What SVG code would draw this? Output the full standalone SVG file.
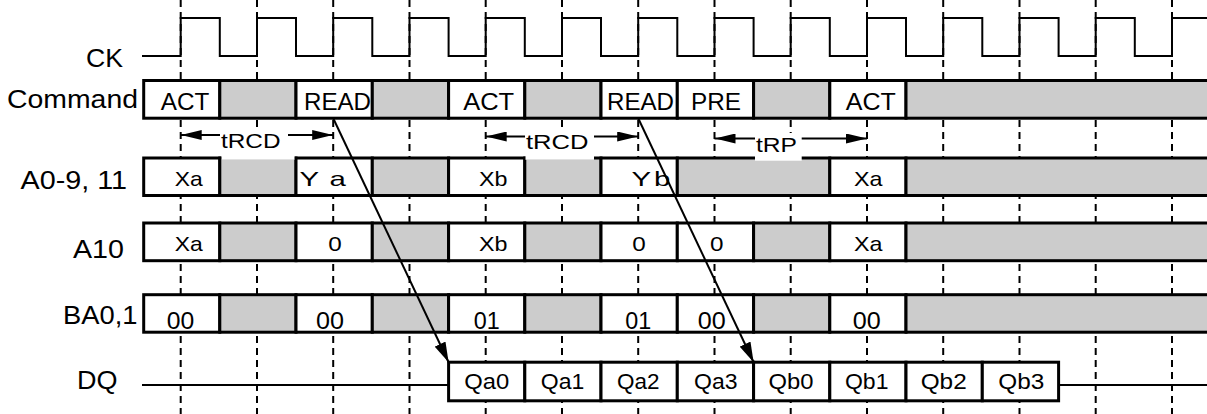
<svg xmlns="http://www.w3.org/2000/svg" width="1207" height="414" viewBox="0 0 1207 414">
<style>
.grid{fill:none;stroke:#000;stroke-width:2;stroke-dasharray:7 5}
.clk{fill:none;stroke:#000;stroke-width:2}
.w{fill:#fff;stroke:#000;stroke-width:3}
.g{fill:#ccc;stroke:#000;stroke-width:3}
.bg{fill:#fff;stroke:none}
.ln{fill:none;stroke:#000;stroke-width:2}
.t{font-family:"Liberation Sans",Arial,Helvetica,sans-serif;fill:#000}
.lbl{font-size:25px}
.cmd{font-size:24px;text-anchor:middle}
.adr{font-size:21px;text-anchor:middle}
.adl{font-size:21px}
.ba{font-size:24px;text-anchor:middle}
.dq{font-size:22.5px;text-anchor:middle}
.tm{font-size:21px}
</style>
<defs>
<marker id="hh" markerUnits="userSpaceOnUse" markerWidth="21" markerHeight="10" refX="21" refY="5" orient="auto">
<path d="M0,0 L21,5 L0,10 z" fill="#000"/>
</marker>
<marker id="ah" markerUnits="userSpaceOnUse" markerWidth="20" markerHeight="12" refX="20" refY="6" orient="auto">
<path d="M0,0 L20,6 L0,12 z" fill="#000"/>
</marker>
</defs>
<rect x="0" y="0" width="1207" height="414" fill="#fff"/>

<g id="grid">
<path class="grid" d="M180.7,0 V414 M257,0 V414 M333.2,0 V414 M409.5,0 V414 M485.7,0 V414 M562,0 V414 M638.2,0 V414 M714.5,0 V414 M790.7,0 V414 M867,0 V414 M943.2,0 V414 M1019.5,0 V414 M1095.7,0 V414 M1172,0 V414"/>
</g>

<g id="ck">
<path class="clk" d="M142,56 H180.7 V18 H219.8 V56 H257 V18 H296 V56 H333.2 V18 H372.3 V56 H409.5 V18 H448.6 V56 H485.7 V18 H524.8 V56 H562 V18 H601 V56 H638.2 V18 H677.3 V56 H714.5 V18 H753.6 V56 H790.7 V18 H829.8 V56 H867 V18 H906 V56 H943.2 V18 H982.3 V56 H1019.5 V18 H1058.6 V56 H1095.7 V18 H1134.8 V56 H1172 V18 H1207"/>
<text class="t lbl" x="86" y="67" textLength="37" lengthAdjust="spacingAndGlyphs">CK</text>
</g>

<g id="command">
<rect class="w" x="143.7" y="80.5" width="76.1" height="37.7"/>
<rect class="g" x="219.8" y="80.5" width="76.2" height="37.7"/>
<rect class="w" x="296" y="80.5" width="76.3" height="37.7"/>
<rect class="g" x="372.3" y="80.5" width="76.3" height="37.7"/>
<rect class="w" x="448.6" y="80.5" width="76.2" height="37.7"/>
<rect class="g" x="524.8" y="80.5" width="76.2" height="37.7"/>
<rect class="w" x="601" y="80.5" width="76.3" height="37.7"/>
<rect class="w" x="677.3" y="80.5" width="76.3" height="37.7"/>
<rect class="g" x="753.6" y="80.5" width="76.2" height="37.7"/>
<rect class="w" x="829.8" y="80.5" width="76.2" height="37.7"/>
<rect class="g" x="906" y="80.5" width="310" height="37.7"/>
<text class="t lbl" x="7" y="108" textLength="131" lengthAdjust="spacingAndGlyphs">Command</text>
<text class="t cmd" x="185" y="109.5" textLength="48.5" lengthAdjust="spacingAndGlyphs">ACT</text>
<text class="t cmd" x="337.5" y="109.5" textLength="67" lengthAdjust="spacingAndGlyphs">READ</text>
<text class="t cmd" x="488.7" y="109.5" textLength="51" lengthAdjust="spacingAndGlyphs">ACT</text>
<text class="t cmd" x="640.5" y="109.5" textLength="67" lengthAdjust="spacingAndGlyphs">READ</text>
<text class="t cmd" x="716" y="109.5" textLength="50" lengthAdjust="spacingAndGlyphs">PRE</text>
<text class="t cmd" x="870.8" y="109.5" textLength="50" lengthAdjust="spacingAndGlyphs">ACT</text>
</g>

<g id="a0_9_11">
<rect class="w" x="143.7" y="158" width="76.1" height="37.5"/>
<rect class="g" x="219.8" y="158" width="76.2" height="37.5"/>
<rect class="w" x="296" y="158" width="76.3" height="37.5"/>
<rect class="g" x="372.3" y="158" width="76.3" height="37.5"/>
<rect class="w" x="448.6" y="158" width="76.2" height="37.5"/>
<rect class="g" x="524.8" y="158" width="76.2" height="37.5"/>
<rect class="w" x="601" y="158" width="76.3" height="37.5"/>
<rect class="g" x="677.3" y="158" width="152.5" height="37.5"/>
<rect class="w" x="829.8" y="158" width="76.2" height="37.5"/>
<rect class="g" x="906" y="158" width="310" height="37.5"/>
<text class="t lbl" x="20.5" y="189" textLength="106.5" lengthAdjust="spacingAndGlyphs">A0-9, 11</text>
<text class="t adr" x="188.7" y="186" textLength="28" lengthAdjust="spacingAndGlyphs">Xa</text>
<text class="t adl" transform="matrix(1.4 0 0 1 0 0)" y="186"><tspan x="213.9">Y</tspan><tspan x="235.4">a</tspan></text>
<text class="t adr" x="493.3" y="186" textLength="28.5" lengthAdjust="spacingAndGlyphs">Xb</text>
<text class="t adl" transform="matrix(1.4 0 0 1 0 0)" y="186"><tspan x="451.1">Y</tspan><tspan x="467.1">b</tspan></text>
<text class="t adr" x="868.3" y="186" textLength="28.5" lengthAdjust="spacingAndGlyphs">Xa</text>
</g>

<g id="a10">
<rect class="w" x="143.7" y="223" width="76.1" height="37.7"/>
<rect class="g" x="219.8" y="223" width="76.2" height="37.7"/>
<rect class="w" x="296" y="223" width="76.3" height="37.7"/>
<rect class="g" x="372.3" y="223" width="76.3" height="37.7"/>
<rect class="w" x="448.6" y="223" width="76.2" height="37.7"/>
<rect class="g" x="524.8" y="223" width="76.2" height="37.7"/>
<rect class="w" x="601" y="223" width="76.3" height="37.7"/>
<rect class="w" x="677.3" y="223" width="76.3" height="37.7"/>
<rect class="g" x="753.6" y="223" width="76.2" height="37.7"/>
<rect class="w" x="829.8" y="223" width="76.2" height="37.7"/>
<rect class="g" x="906" y="223" width="310" height="37.7"/>
<text class="t lbl" x="73" y="258" textLength="51" lengthAdjust="spacingAndGlyphs">A10</text>
<text class="t adr" x="188.7" y="251" textLength="28" lengthAdjust="spacingAndGlyphs">Xa</text>
<text class="t adr" x="335" y="251" textLength="13.5" lengthAdjust="spacingAndGlyphs">0</text>
<text class="t adr" x="493.3" y="251" textLength="28.5" lengthAdjust="spacingAndGlyphs">Xb</text>
<text class="t adr" x="639" y="251" textLength="13.5" lengthAdjust="spacingAndGlyphs">0</text>
<text class="t adr" x="716.7" y="251" textLength="13.5" lengthAdjust="spacingAndGlyphs">0</text>
<text class="t adr" x="868.3" y="251" textLength="28.5" lengthAdjust="spacingAndGlyphs">Xa</text>
</g>

<g id="ba0_1">
<rect class="w" x="143.7" y="294.7" width="76.1" height="37.5"/>
<rect class="g" x="219.8" y="294.7" width="76.2" height="37.5"/>
<rect class="w" x="296" y="294.7" width="76.3" height="37.5"/>
<rect class="g" x="372.3" y="294.7" width="76.3" height="37.5"/>
<rect class="w" x="448.6" y="294.7" width="76.2" height="37.5"/>
<rect class="g" x="524.8" y="294.7" width="76.2" height="37.5"/>
<rect class="w" x="601" y="294.7" width="76.3" height="37.5"/>
<rect class="w" x="677.3" y="294.7" width="76.3" height="37.5"/>
<rect class="g" x="753.6" y="294.7" width="76.2" height="37.5"/>
<rect class="w" x="829.8" y="294.7" width="76.2" height="37.5"/>
<rect class="g" x="906" y="294.7" width="310" height="37.5"/>
<text class="t lbl" x="63" y="324" textLength="74.5" lengthAdjust="spacingAndGlyphs">BA0,1</text>
<text class="t ba" x="180.5" y="329" textLength="27.5" lengthAdjust="spacingAndGlyphs">00</text>
<text class="t ba" x="330" y="329" textLength="28" lengthAdjust="spacingAndGlyphs">00</text>
<text class="t ba" x="486.7" y="329" textLength="26" lengthAdjust="spacingAndGlyphs">01</text>
<text class="t ba" x="638.3" y="329" textLength="26" lengthAdjust="spacingAndGlyphs">01</text>
<text class="t ba" x="711.7" y="329" textLength="28" lengthAdjust="spacingAndGlyphs">00</text>
<text class="t ba" x="866.7" y="329" textLength="28" lengthAdjust="spacingAndGlyphs">00</text>
</g>

<g id="dq">
<path class="ln" d="M142,385 H448.6 M1058.6,385 H1207"/>
<rect class="w" x="448.6" y="362.2" width="76.2" height="38.6"/>
<rect class="w" x="524.8" y="362.2" width="76.2" height="38.6"/>
<rect class="w" x="601" y="362.2" width="76.3" height="38.6"/>
<rect class="w" x="677.3" y="362.2" width="76.3" height="38.6"/>
<rect class="w" x="753.6" y="362.2" width="76.2" height="38.6"/>
<rect class="w" x="829.8" y="362.2" width="76.2" height="38.6"/>
<rect class="w" x="906" y="362.2" width="76.3" height="38.6"/>
<rect class="w" x="982.3" y="362.2" width="76.3" height="38.6"/>
<text class="t lbl" x="77" y="389" textLength="40.5" lengthAdjust="spacingAndGlyphs">DQ</text>
<text class="t dq" x="486.7" y="389" textLength="45" lengthAdjust="spacingAndGlyphs">Qa0</text>
<text class="t dq" x="562.5" y="389" textLength="43.5" lengthAdjust="spacingAndGlyphs">Qa1</text>
<text class="t dq" x="638.3" y="389" textLength="42.5" lengthAdjust="spacingAndGlyphs">Qa2</text>
<text class="t dq" x="715.8" y="389" textLength="43.5" lengthAdjust="spacingAndGlyphs">Qa3</text>
<text class="t dq" x="791" y="389" textLength="45" lengthAdjust="spacingAndGlyphs">Qb0</text>
<text class="t dq" x="866.7" y="389" textLength="43.5" lengthAdjust="spacingAndGlyphs">Qb1</text>
<text class="t dq" x="943.7" y="389" textLength="46" lengthAdjust="spacingAndGlyphs">Qb2</text>
<text class="t dq" x="1021.3" y="389" textLength="46" lengthAdjust="spacingAndGlyphs">Qb3</text>
</g>

<g id="tRCD1">
<rect class="bg" x="221.5" y="132" width="73" height="27.8"/>
<path class="ln" d="M220,135 H180.7" marker-end="url(#hh)"/>
<path class="ln" d="M288,135 H333.2" marker-end="url(#hh)"/>
<text class="t tm" x="221" y="148" textLength="59.5" lengthAdjust="spacingAndGlyphs">tRCD</text>
</g>
<g id="tRCD2">
<rect class="bg" x="525.5" y="132" width="68.5" height="27.8"/>
<path class="ln" d="M525,136.5 H485.7" marker-end="url(#hh)"/>
<path class="ln" d="M594,136.5 H638.2" marker-end="url(#hh)"/>
<text class="t tm" x="526" y="149" textLength="62.5" lengthAdjust="spacingAndGlyphs">tRCD</text>
</g>
<g id="tRP">
<rect class="bg" x="755" y="133" width="46.7" height="27.7"/>
<path class="ln" d="M755,138.5 H714.5" marker-end="url(#hh)"/>
<path class="ln" d="M801.7,138.5 H867" marker-end="url(#hh)"/>
<text class="t tm" x="756" y="151.5" textLength="41" lengthAdjust="spacingAndGlyphs">tRP</text>
</g>

<g id="connectors">
<path class="ln" d="M333.2,118.2 L448.6,362.2" marker-end="url(#ah)"/>
<path class="ln" d="M638.2,118.2 L753.6,362.2" marker-end="url(#ah)"/>
</g>
</svg>
